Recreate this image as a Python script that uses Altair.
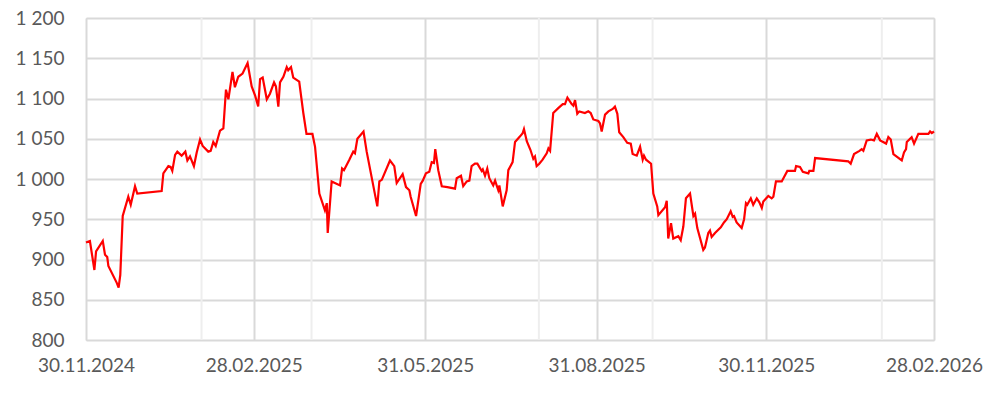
import altair as alt
import pandas as pd

# Days elapsed since 30.11.2024 and index values
start_date = "2024-11-30"
days = [0, 2.1, 4.5, 5.4, 9.0, 10.2, 11.4, 12.0, 16.5, 17.5,
        18.4, 19.7, 22.7, 24.0, 26.3, 27.5, 40.6, 41.5, 44.2, 45.4,
        46.3, 47.8, 49.0, 51.3, 53.3, 54.4, 55.8, 57.9, 59.4, 61.2,
        62.6, 65.6, 66.9, 68.3, 69.6, 71.9, 73.7, 75.1, 76.4, 78.6,
        79.9, 81.7, 84.0, 86.7, 88.9, 90.7, 92.4, 93.4, 94.8, 97.0,
        98.7, 100.9, 101.9, 103.2, 104.1, 105.9, 107.7, 108.5, 110.0, 111.2,
        114.4, 116.6, 118.3, 121.5, 122.9, 125.2, 128.2, 129.2, 129.7, 131.8,
        136.3, 137.4, 138.4, 141.3, 143.4, 144.3, 145.6, 148.9, 150.6, 156.3,
        157.4, 158.7, 163.1, 165.4, 166.7, 169.9, 171.7, 173.5, 174.2, 177.1,
        179.6, 180.7, 182.4, 184.2, 185.5, 186.7, 187.4, 189.0, 190.9, 193.9,
        198.0, 198.9, 201.2, 202.4, 204.3, 205.7, 206.9, 208.7, 210.0, 212.3,
        212.9, 214.1, 215.3, 216.4, 218.5, 219.5, 221.2, 221.8, 223.6, 225.7,
        226.6, 228.9, 230.2, 232.9, 234.3, 235.0, 236.5, 238.5, 240.0, 240.9,
        241.8, 243.2, 245.0, 247.2, 248.1, 249.0, 250.7, 253.4, 255.8, 257.0,
        258.3, 260.6, 261.5, 262.4, 263.6, 264.7, 267.7, 269.5, 270.8, 272.2,
        274.9, 275.8, 276.7, 278.5, 280.3, 282.6, 283.8, 285.1, 286.1, 288.3,
        290.4, 292.3, 293.3, 295.5, 297.3, 298.7, 299.4, 300.5, 303.2, 304.4,
        306.5, 307.1, 310.7, 311.6, 312.4, 313.9, 315.1, 317.8, 319.1, 320.5,
        321.9, 324.1, 325.9, 326.8, 328.0, 331.2, 332.1, 333.9, 334.8, 335.7,
        337.5, 340.6, 342.3, 343.8, 345.9, 347.0, 347.7, 349.1, 351.8, 353.1,
        354.1, 354.8, 356.7, 358.0, 359.9, 361.3, 362.6, 363.4, 366.1, 367.9,
        368.8, 370.2, 373.3, 376.3, 380.4, 381.0, 383.1, 384.6, 387.6, 388.1,
        390.3, 391.2, 409.0, 410.3, 412.1, 415.0, 416.2, 417.1, 418.9, 421.1,
        422.8, 424.3, 426.1, 429.3, 430.5, 431.8, 433.2, 437.7, 438.9, 440.0,
        440.4, 443.0, 444.3, 446.6, 452.0, 452.9, 453.8, 455.0]

values = [921, 923, 887, 910, 923, 906, 903, 892, 871, 865,
          881, 954, 978, 968, 991, 982, 985, 1007, 1016, 1015,
          1010, 1030, 1034, 1029, 1034, 1023, 1028, 1016, 1033, 1049,
          1041, 1034, 1035, 1046, 1041, 1060, 1063, 1111, 1099, 1133,
          1114, 1127, 1131, 1144, 1115, 1104, 1090, 1124, 1126, 1099,
          1106, 1120, 1115, 1090, 1120, 1127, 1139, 1135, 1139, 1126,
          1121, 1082, 1056, 1056, 1040, 982, 961, 970, 933, 997,
          992, 1013, 1011, 1024, 1034, 1032, 1050, 1059, 1034, 966,
          997, 999, 1023, 1016, 995, 1006, 990, 986, 978, 954,
          994, 998, 1007, 1009, 1021, 1020, 1037, 1011, 991, 990,
          988, 1001, 1004, 991, 997, 998, 1016, 1019, 1019, 1010,
          1012, 1004, 1013, 1001, 992, 998, 986, 992, 966, 986,
          1011, 1021, 1046, 1053, 1057, 1062, 1047, 1036, 1025, 1028,
          1016, 1019, 1024, 1032, 1038, 1035, 1082, 1088, 1093, 1093,
          1101, 1093, 1091, 1098, 1081, 1084, 1082, 1084, 1082, 1074,
          1072, 1069, 1059, 1080, 1084, 1087, 1090, 1081, 1058, 1052,
          1045, 1044, 1031, 1029, 1040, 1024, 1029, 1024, 1019, 982,
          966, 955, 965, 973, 926, 945, 926, 929, 924, 941,
          976, 982, 954, 957, 939, 912, 915, 933, 936, 928,
          933, 940, 946, 950, 960, 953, 954, 946, 939, 950,
          970, 968, 976, 968, 976, 971, 964, 972, 979, 976,
          978, 997, 997, 1010, 1010, 1016, 1015, 1009, 1007, 1010,
          1010, 1026, 1022, 1019, 1031, 1035, 1037, 1035, 1048, 1049,
          1048, 1056, 1048, 1044, 1052, 1049, 1031, 1023, 1033, 1037,
          1046, 1052, 1044, 1056, 1056, 1059, 1057, 1059]

# Labelled dates (darker grid) and the extra, lighter month-end grid lines
tick_dates = [(2024, 11, 30), (2025, 2, 28), (2025, 5, 31),
              (2025, 8, 31), (2025, 11, 30), (2026, 2, 28)]
light_grid_dates = ["2025-01-31", "2025-03-31", "2025-07-31",
                    "2025-09-30", "2026-01-31"]
y_ticks = [800, 850, 900, 950, 1000, 1050, 1100, 1150, 1200]

df = pd.DataFrame({
    "date": pd.Timestamp(start_date) + pd.to_timedelta(days, unit="D"),
    "value": values,
})
light_df = pd.DataFrame({"date": pd.to_datetime(light_grid_dates)})

tick_dt = [alt.DateTime(year=y, month=m, date=d) for (y, m, d) in tick_dates]

x_scale = alt.Scale(domain=[tick_dt[0], tick_dt[-1]])

FONT = "Lato"
LABEL_COLOR = "#595959"
GRID = "#d9d9d9"

x_axis = alt.Axis(
    values=tick_dt, format="%d.%m.%Y", title=None,
    grid=True, gridColor=GRID, gridWidth=2,
    domain=False, ticks=False, labelFlush=False,
    labelPadding=16, labelFont=FONT, labelFontSize=19,
    labelColor=LABEL_COLOR, labelOverlap=False,
)
y_axis = alt.Axis(
    values=y_ticks, title=None, grid=True, gridColor=GRID,
    gridWidth=2, domain=False, ticks=False, labelPadding=22,
    labelFont=FONT, labelFontSize=19, labelColor=LABEL_COLOR,
    labelExpr="replace(format(datum.value, ','), ',', ' ')",
)

light_rules = alt.Chart(light_df).mark_rule(
    color="#eeeeee", strokeWidth=2
).encode(
    x=alt.X("date:T", scale=x_scale, axis=x_axis)
)

line = alt.Chart(df).mark_line(
    color="#ff0000", strokeWidth=2.2, interpolate="linear"
).encode(
    x=alt.X("date:T", scale=x_scale, axis=x_axis),
    y=alt.Y(
        "value:Q",
        scale=alt.Scale(domain=[800, 1200], nice=False, zero=False),
        axis=y_axis,
    ),
)

chart = alt.layer(light_rules, line).properties(
    width=848,
    height=322,
    autosize=alt.AutoSizeParams(type="none"),
    padding={"left": 86, "top": 18, "right": 66, "bottom": 54},
).configure_view(stroke=None).configure(background="white")

chart.save("out.html", embed_options={"renderer": "svg", "actions": False})
